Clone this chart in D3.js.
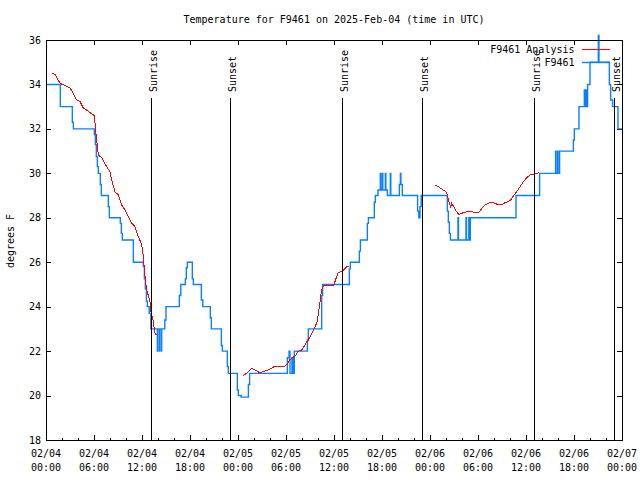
<!DOCTYPE html>
<html><head><meta charset="utf-8">
<script src="https://cdn.jsdelivr.net/npm/d3@7"></script>
<style>
html,body{margin:0;padding:0;background:#fff;}
svg{display:block;font-family:"DejaVu Sans Mono","Liberation Mono",monospace;font-size:10px;}
</style></head>
<body><svg id="c" width="640" height="480"></svg>
<script>
// ---- data (hours after 2025-02-04 00:00 UTC) ----
const chartTitle = "Temperature for F9461 on 2025-Feb-04 (time in UTC)";
const yLabel = "degrees F";
const seriesNames = ["F9461 Analysis", "F9461"];
const yTicks = [18,20,22,24,26,28,30,32,34,36];

// observations (step: value holds from time until next entry)
const obsHours = [0,1.79,3.29,3.42,6.04,6.17,6.29,6.42,6.54,6.79,6.92,7.79,7.92,9.29,9.42,9.54,10.92,
 12.17,12.3,12.42,12.55,12.67,12.9,13.1,13.92,13.96,14.17,14.21,14.42,14.46,14.85,15.0,16.67,16.85,
 17.42,17.54,17.67,18.29,18.42,19.42,19.6,20.54,20.67,21.92,22.04,22.67,22.79,23.92,24.04,24.4,25.3,25.45,
 30.17,30.38,30.5,30.75,30.9,31.04,32.67,32.79,34.46,34.58,37.92,38.04,39.17,39.3,40.17,40.3,41.04,41.17,
 41.5,41.79,41.85,42.04,42.1,42.42,42.48,42.67,43.04,43.1,44.17,44.3,44.36,44.54,46.45,46.6,46.75,46.9,
 50.17,50.29,50.42,50.55,51.5,51.56,52.5,52.56,52.85,52.9,53.04,58.75,61.7,63.7,63.75,63.95,64.0,64.2,
 65.92,66.04,66.62,67.29,67.34,67.5,67.55,67.7,68.0,69.04,69.12,70.42,70.58,70.83,71.5,72];
const obsTemps = [34,33,32.3,32,31.75,31.3,30.75,30.3,30,29.5,29,28.5,28,27.75,27.3,27,26,
 25.8,25.25,24.8,24.25,24,23.7,23,22,23,22,23,22,23,23.4,24,24.5,25,
 25.25,25.75,26,25.25,25,24.3,24,23.5,23,22.25,22,21.3,21,20.25,20,19.93,20.5,21,
 21.7,22,21,21.7,21,22,22.5,23,24.5,25,25.7,26,26.5,27,27.75,28,28.7,29,
 29.25,30,29.25,30,29.25,30,29.25,29,30,29,29.5,30,29.5,29,28.3,28,28.5,29,
 28.3,27.8,27.3,27,28,27,28,27,28,27,28,29,30,31,30,31,30,31,
 31.5,32,33,33.75,33,33.75,33,34,35,36.2,35,34,33.3,33,32,32];

// analysis (null marks a gap)
const anHours = [0.79,1.125,1.75,2.375,3.0,3.42,3.83,4.25,4.67,5.08,5.71,6.04,6.17,6.33,6.54,6.96,7.58,8.0,8.21,
 8.625,9.04,9.46,9.875,10.29,10.71,11.125,11.54,11.875,12.04,12.17,12.29,12.42,12.58,12.79,13.0,13.125,13.42,
 13.54,13.67,13.875, 19,
 24.67,25.08,25.42,25.71,26.0,26.33,26.67,27.08,27.5,27.92,28.21,28.625,29.875,30.17,30.42,30.71,31.125,31.33,
 31.54,31.96,32.25,32.5,32.79,33.0,33.33,33.625,33.92,34.04,34.17,34.33,34.46,34.67,35.9,36.125,36.33,36.54,
 36.96,37.17,37.38,37.67,37.92, 43,
 48.625,49.04,49.33,49.67,50.0,50.17,50.29,50.42,50.58,50.71,50.83,51.0,51.25,51.54,51.75,52.17,52.58,53.21,
 53.83,54.17,54.46,54.875,55.29,55.71,56.125,56.54,56.96,57.375,57.79,58.08,58.42,58.83,59.25,59.67,60.08,
 60.5,61.125,61.67];
const anTemps = [34.5,34.45,34.05,33.95,33.85,33.6,33.3,33.23,32.93,32.85,32.67,32.6,32.1,31.5,30.83,30.7,30.3,30.07,29.7,
 29.17,29.03,28.58,28.35,28.05,27.75,27.6,27.15,26.88,26.63,26.25,25.73,25.2,24.75,24.5,24.2,23.78,23.33,
 22.95,22.73,22.73, null,
 20.9,21.0,21.13,21.22,21.18,21.12,21.03,21.07,21.12,21.18,21.22,21.33,21.33,21.42,21.6,21.67,21.78,21.87,
 22.0,22.05,22.2,22.38,22.5,22.65,22.88,23.1,23.33,23.7,24.0,24.45,24.75,24.93,24.95,25.13,25.35,25.53,
 25.58,25.65,25.72,25.83,25.83, null,
 29.47,29.4,29.33,29.25,29.17,29.02,28.83,28.65,28.5,28.65,28.58,28.47,28.32,28.17,28.17,28.23,28.27,28.27,
 28.23,28.27,28.42,28.58,28.65,28.7,28.65,28.58,28.58,28.68,28.73,28.8,28.98,29.17,29.4,29.62,29.8,
 29.93,29.98,30.03];

const sunriseHours = [13.1, 37.05, 61.03];
const sunsetHours = [23.0, 47.03, 71.04];

// ---- drawing ----
const BASE = Date.UTC(2025,1,4);
const toDate = h => new Date(BASE + h*3600e3);
const m={l:46,r:622,t:40,b:440};
const svg = d3.select("#c");
const x = d3.scaleUtc().domain([toDate(0), toDate(72)]).range([m.l,m.r]);
const y = d3.scaleLinear().domain([18,36]).range([m.b,m.t]);
const BLUE = "#0a80ff", RED = "#ff0000";

const obs = obsHours.map((h,i)=>({t:toDate(h),v:obsTemps[i]}));
const an = anHours.map((h,i)=>({t:toDate(h),v:anTemps[i]}));

// axes ticks (inward)
const majorT = d3.utcHour.every(6).range(toDate(0), toDate(72.01));
const minorT = d3.utcHour.every(2).range(toDate(0), toDate(72.01));
svg.append("g").attr("transform",`translate(0,${m.b})`)
  .call(d3.axisBottom(x).tickValues(minorT).tickSizeInner(-2.5).tickSizeOuter(0).tickFormat(""))
  .call(g=>g.select(".domain").remove());
svg.append("g").attr("transform",`translate(0,${m.b})`)
  .call(d3.axisBottom(x).tickValues(majorT).tickSizeInner(-5).tickSizeOuter(0).tickFormat(""))
  .call(g=>g.select(".domain").remove());
svg.append("g").attr("transform",`translate(0,${m.t})`)
  .call(d3.axisTop(x).tickValues(majorT).tickSizeInner(-5).tickSizeOuter(0).tickFormat(""))
  .call(g=>g.select(".domain").remove());
svg.append("g").attr("transform",`translate(${m.l},0)`)
  .call(d3.axisLeft(y).tickValues(yTicks).tickSizeInner(-5).tickSizeOuter(0).tickFormat(""))
  .call(g=>g.select(".domain").remove());
svg.append("g").attr("transform",`translate(${m.r},0)`)
  .call(d3.axisRight(y).tickValues(yTicks).tickSizeInner(-5).tickSizeOuter(0).tickFormat(""))
  .call(g=>g.select(".domain").remove());
svg.selectAll(".tick line").attr("stroke","#000").attr("shape-rendering","crispEdges");

// tick labels
const fD = d3.utcFormat("%m/%d"), fT = d3.utcFormat("%H:%M");
const xl = svg.append("g").attr("text-anchor","middle");
majorT.forEach(d=>{
  xl.append("text").attr("x",x(d)).attr("y",456.5).text(fD(d));
  xl.append("text").attr("x",x(d)).attr("y",470.5).text(fT(d));
});
svg.append("g").attr("text-anchor","end").selectAll("text").data(yTicks).join("text")
  .attr("x",41).attr("y",d=>y(d)).attr("dy","0.35em").text(d=>d);

// series
svg.append("path").datum(obs).attr("fill","none").attr("stroke",BLUE).attr("stroke-width",1.4)
  .attr("d", d3.line().x(d=>x(d.t)).y(d=>y(d.v)).curve(d3.curveStepAfter));
svg.append("path").datum(an).attr("fill","none").attr("stroke",RED).attr("stroke-width",1)
  .attr("shape-rendering","crispEdges")
  .attr("d", d3.line().defined(d=>d.v!=null).x(d=>x(d.t)).y(d=>y(d.v)));

// sunrise/sunset markers
const marks = sunriseHours.map(h=>({h,l:"Sunrise"})).concat(sunsetHours.map(h=>({h,l:"Sunset"})));
marks.forEach(d=>{
  const xx = Math.round(x(toDate(d.h)))+0.5;
  svg.append("line").attr("x1",xx).attr("x2",xx).attr("y1",98).attr("y2",m.b)
    .attr("stroke","#000").attr("stroke-width",1);
  svg.append("text").attr("transform",`translate(${xx+5},92) rotate(-90)`).attr("text-anchor","start").text(d.l);
});

// frame
svg.append("rect").attr("x",m.l+0.5).attr("y",m.t+0.5).attr("width",m.r-m.l).attr("height",m.b-m.t)
  .attr("fill","none").attr("stroke","#000").attr("stroke-width",1);

// legend
const leg = [{n:seriesNames[0],c:RED,y:49.5,w:1},{n:seriesNames[1],c:BLUE,y:62.5,w:1.4}];
leg.forEach(d=>{
  svg.append("text").attr("x",574.5).attr("y",d.y+3.5).attr("text-anchor","end").text(d.n);
  svg.append("line").attr("x1",582).attr("x2",610).attr("y1",d.y).attr("y2",d.y).attr("stroke",d.c).attr("stroke-width",d.w);
});

// title & y label
svg.append("text").attr("x",334).attr("y",23).attr("text-anchor","middle").text(chartTitle);
svg.append("text").attr("transform","translate(14,241) rotate(-90)").attr("text-anchor","middle").text(yLabel);
</script></body></html>
